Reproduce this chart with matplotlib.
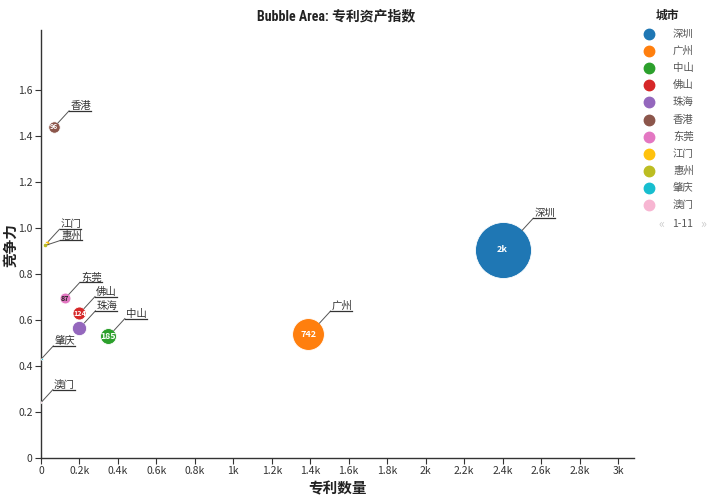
import matplotlib
matplotlib.use("Agg")
import matplotlib.pyplot as plt
from matplotlib.lines import Line2D
from matplotlib.ticker import FuncFormatter

plt.rcParams["font.family"] = ["Liberation Sans Narrow", "Noto Sans CJK SC", "DejaVu Sans"]

# 数据
cities = ["深圳", "广州", "中山", "佛山", "珠海", "香港", "东莞", "江门", "惠州", "肇庆", "澳门"]
patent_count = [2400, 1390, 350, 200, 200, 68, 125, 30, 22, 3, 2]
competitiveness = [0.905, 0.538, 0.530, 0.630, 0.566, 1.440, 0.695, 0.935, 0.924, 0.432, 0.243]
asset_index = [2300, 742, 185, 124, 150, 96, 87, 18, 15, 3, 2]
colors = ["#1f77b4", "#ff7f0e", "#2ca02c", "#d62728", "#9467bd", "#8c564b",
          "#e377c2", "#ffc20e", "#bcbd22", "#17becf", "#f7b6d2"]
x_ticks = [i * 200 for i in range(16)]
y_ticks = [0, 0.2, 0.4, 0.6, 0.8, 1.0, 1.2, 1.4, 1.6]

W, H = 709, 503
fig = plt.figure(figsize=(W / 100, H / 100), dpi=100)
ax = fig.add_axes([41 / W, 45 / H, 593 / W, 428 / H])


def px(x, y):
    # 参考图像素坐标(左上原点) -> figure 比例
    return x / W, 1 - y / H


def k_fmt(v, _pos=None):
    if v == 0:
        return "0"
    if v >= 1000 and v % 1000 == 0:
        return f"{v / 1000:.0f}k"
    return f"{v / 1000:g}k"


def value_fmt(v):
    return f"{v / 1000:.0f}k" if v >= 1000 else f"{v:.0f}"


size_k = 0.707
sizes = [v * size_k for v in asset_index]
order = sorted(range(len(cities)), key=lambda i: -asset_index[i])
for i in order:
    ax.scatter(patent_count[i], competitiveness[i], s=sizes[i], color=colors[i],
               edgecolors="white", linewidths=0.6, zorder=3)

ax.set_xlim(0, 3083)
ax.set_ylim(0, 1.861)
ax.set_xticks(x_ticks)
ax.set_yticks(y_ticks)
ax.xaxis.set_major_formatter(FuncFormatter(k_fmt))
ax.yaxis.set_major_formatter(FuncFormatter(lambda v, p: "0" if v == 0 else f"{v:.1f}"))
for s in ["top", "right"]:
    ax.spines[s].set_visible(False)
for s in ["left", "bottom"]:
    ax.spines[s].set_color("#333333")
    ax.spines[s].set_linewidth(1.0)
ax.tick_params(direction="out", length=4, width=0.8, colors="#333333",
               labelsize=7.5, labelcolor="#333333", pad=2)

ax.set_xlabel("专利数量", fontsize=10.5, fontweight="bold", family=["Noto Sans CJK SC"],
              labelpad=3, color="#222222")
fig.text(*px(10, 245), "竞争力", rotation=90, fontsize=10.5, fontweight="bold",
         family=["Noto Sans CJK SC"], color="#222222", ha="center", va="center")
fig.text(*px(336, 16), "Bubble Area: 专利资产指数", fontsize=10, fontweight="bold",
         family=["Roboto Condensed", "Liberation Sans Narrow", "Noto Sans CJK SC"],
         ha="center", va="center", color="#222222")

fig.canvas.draw()
renderer = fig.canvas.get_renderer()
to_fig = fig.transFigure.inverted()

for i, name in enumerate(cities):
    cx, cy = ax.transData.transform((patent_count[i], competitiveness[i]))
    r = (sizes[i] ** 0.5) / 2 / 72 * 100
    if name == "惠州":
        sx, sy = cx + r * 0.9, cy + r * 0.3
        ex, ey = cx + 15, cy + 5
    else:
        sx, sy = cx + r * 0.7, cy + r * 0.7
        ex, ey = cx + r * 0.7 + 11, cy + r * 0.7 + 12
    t = fig.text(*to_fig.transform((ex + 1, ey + 2)), name, fontsize=7.5,
                 family=["Noto Sans CJK SC"], color="#333333", ha="left", va="baseline")
    bb = t.get_window_extent(renderer)
    p0 = to_fig.transform((sx, sy))
    p1 = to_fig.transform((ex, ey))
    p2 = to_fig.transform((bb.x1, ey))
    fig.add_artist(Line2D([p0[0], p1[0]], [p0[1], p1[1]], color="#555555", lw=0.7))
    fig.add_artist(Line2D([p1[0], p2[0]], [p1[1], p2[1]], color="#333333", lw=0.9))
    # 气泡内数值
    if r >= 5 and name != "珠海":
        rgb = matplotlib.colors.to_rgb(colors[i])
        lum = 0.299 * rgb[0] + 0.587 * rgb[1] + 0.114 * rgb[2]
        ax.text(patent_count[i], competitiveness[i], value_fmt(asset_index[i]),
                fontsize=min(6.5, max(5, 0.8 * r)), fontweight="bold",
                color="#222222" if lum > 0.6 else "white",
                ha="center", va="center", zorder=4)

# 图例
fig.text(*px(656, 15), "城市", fontsize=8.5, fontweight="bold", family=["Noto Sans CJK SC"],
         ha="left", va="center", color="#222222")
for i, name in enumerate(cities):
    yy = 34 + 17.1 * i
    fig.add_artist(Line2D([px(649, yy)[0]], [px(649, yy)[1]], marker="o", markersize=7.5,
                          color=colors[i], linestyle="none"))
    fig.text(*px(673, yy), name, fontsize=7.5, family=["Noto Sans CJK SC"],
             ha="left", va="center", color="#555555")
fig.text(*px(661, 224), "«", fontsize=9, ha="center", va="center", color="#cccccc")
fig.text(*px(683, 224), "1-11", fontsize=7.5, ha="center", va="center", color="#555555")
fig.text(*px(703, 224), "»", fontsize=9, ha="center", va="center", color="#cccccc")

fig.savefig("out.png", dpi=100)
